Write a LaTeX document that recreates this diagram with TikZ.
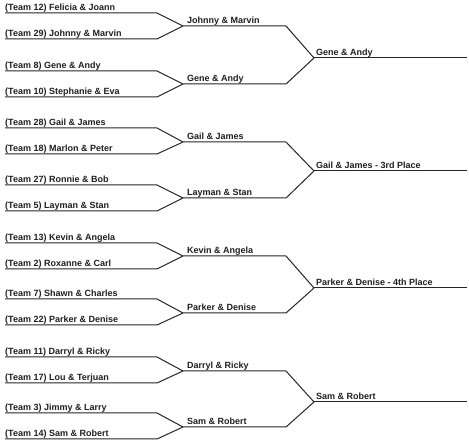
\documentclass[tikz,border=0pt]{standalone}
\usepackage{fontspec}
\setmainfont{Liberation Sans}
\usepackage{tikz}
\usetikzlibrary{positioning,calc}
\tikzset{
  team/.style  = {anchor=base west, inner sep=0pt, yshift=2.6pt,
                  font=\bfseries\fontsize{9}{11}\selectfont, text=black!88},
  wire/.style  = {line width=1pt, draw=black!85, line join=miter},
}

\begin{document}
\begin{tikzpicture}[x=1pt,y=-1pt]
\useasboundingbox (0,0) rectangle (469,446);
% first round
\coordinate (a1) at (5,13);  \coordinate (a2) at (5,39);
\coordinate (a3) at (5,71);  \coordinate (a4) at (5,97);
\coordinate (a5) at (5,128); \coordinate (a6) at (5,154);
\coordinate (a7) at (5,185); \coordinate (a8) at (5,211);
\coordinate (a9) at (5,243); \coordinate (a10) at (5,269);
\coordinate (a11) at (5,299); \coordinate (a12) at (5,325);
\coordinate (a13) at (5,357); \coordinate (a14) at (5,383);
\coordinate (a15) at (5,413); \coordinate (a16) at (5,439);
\node[team] (t1) at (a1) {(Team 12) Felicia \& Joann};
\node[team] (t2) at (a2) {(Team 29) Johnny \& Marvin};
\node[team] (t3) at (a3) {(Team 8) Gene \& Andy};
\node[team] (t4) at (a4) {(Team 10) Stephanie \& Eva};
\node[team] (t5) at (a5) {(Team 28) Gail \& James};
\node[team] (t6) at (a6) {(Team 18) Marlon \& Peter};
\node[team] (t7) at (a7) {(Team 27) Ronnie \& Bob};
\node[team] (t8) at (a8) {(Team 5) Layman \& Stan};
\node[team] (t9) at (a9) {(Team 13) Kevin \& Angela};
\node[team] (t10) at (a10) {(Team 2) Roxanne \& Carl};
\node[team] (t11) at (a11) {(Team 7) Shawn \& Charles};
\node[team] (t12) at (a12) {(Team 22) Parker \& Denise};
\node[team] (t13) at (a13) {(Team 11) Darryl \& Ricky};
\node[team] (t14) at (a14) {(Team 17) Lou \& Terjuan};
\node[team] (t15) at (a15) {(Team 3) Jimmy \& Larry};
\node[team] (t16) at (a16) {(Team 14) Sam \& Robert};
% second round
\coordinate (j1) at (183,26);  \coordinate (j2) at (183,84);
\coordinate (j3) at (183,142); \coordinate (j4) at (183,198);
\coordinate (j5) at (183,256); \coordinate (j6) at (183,313);
\coordinate (j7) at (183,371); \coordinate (j8) at (183,427);
\node[team,xshift=4pt] (w1) at (j1) {Johnny \& Marvin};
\node[team,xshift=4pt] (w2) at (j2) {Gene \& Andy};
\node[team,xshift=4pt] (w3) at (j3) {Gail \& James};
\node[team,xshift=4pt] (w4) at (j4) {Layman \& Stan};
\node[team,xshift=4pt] (w5) at (j5) {Kevin \& Angela};
\node[team,xshift=4pt] (w6) at (j6) {Parker \& Denise};
\node[team,xshift=4pt] (w7) at (j7) {Darryl \& Ricky};
\node[team,xshift=4pt] (w8) at (j8) {Sam \& Robert};
% third round
\coordinate (k1) at (314,58);  \coordinate (k2) at (314,171);
\coordinate (k3) at (314,288); \coordinate (k4) at (314,402);
\node[team,xshift=2pt] (s1) at (k1) {Gene \& Andy};
\node[team,xshift=2pt] (s2) at (k2) {Gail \& James - 3rd Place};
\node[team,xshift=2pt] (s3) at (k3) {Parker \& Denise - 4th Place};
\node[team,xshift=2pt] (s4) at (k4) {Sam \& Robert};
% bracket lines
\draw[wire] (a1) -- ++(152,0) -- (j1) -- ++(103,0) -- (k1);
\draw[wire] (a2) -- ++(152,0) -- (j1);
\draw[wire] (a3) -- ++(152,0) -- (j2) -- ++(103,0) -- (k1);
\draw[wire] (a4) -- ++(152,0) -- (j2);
\draw[wire] (a5) -- ++(152,0) -- (j3) -- ++(103,0) -- (k2);
\draw[wire] (a6) -- ++(152,0) -- (j3);
\draw[wire] (a7) -- ++(152,0) -- (j4) -- ++(103,0) -- (k2);
\draw[wire] (a8) -- ++(152,0) -- (j4);
\draw[wire] (a9) -- ++(152,0) -- (j5) -- ++(103,0) -- (k3);
\draw[wire] (a10) -- ++(152,0) -- (j5);
\draw[wire] (a11) -- ++(152,0) -- (j6) -- ++(103,0) -- (k3);
\draw[wire] (a12) -- ++(152,0) -- (j6);
\draw[wire] (a13) -- ++(152,0) -- (j7) -- ++(103,0) -- (k4);
\draw[wire] (a14) -- ++(152,0) -- (j7);
\draw[wire] (a15) -- ++(152,0) -- (j8) -- ++(103,0) -- (k4);
\draw[wire] (a16) -- ++(152,0) -- (j8);
\draw[wire] (k1) -- ++(153,0);
\draw[wire] (k2) -- ++(153,0);
\draw[wire] (k3) -- ++(153,0);
\draw[wire] (k4) -- ++(153,0);
\end{tikzpicture}
\end{document}
